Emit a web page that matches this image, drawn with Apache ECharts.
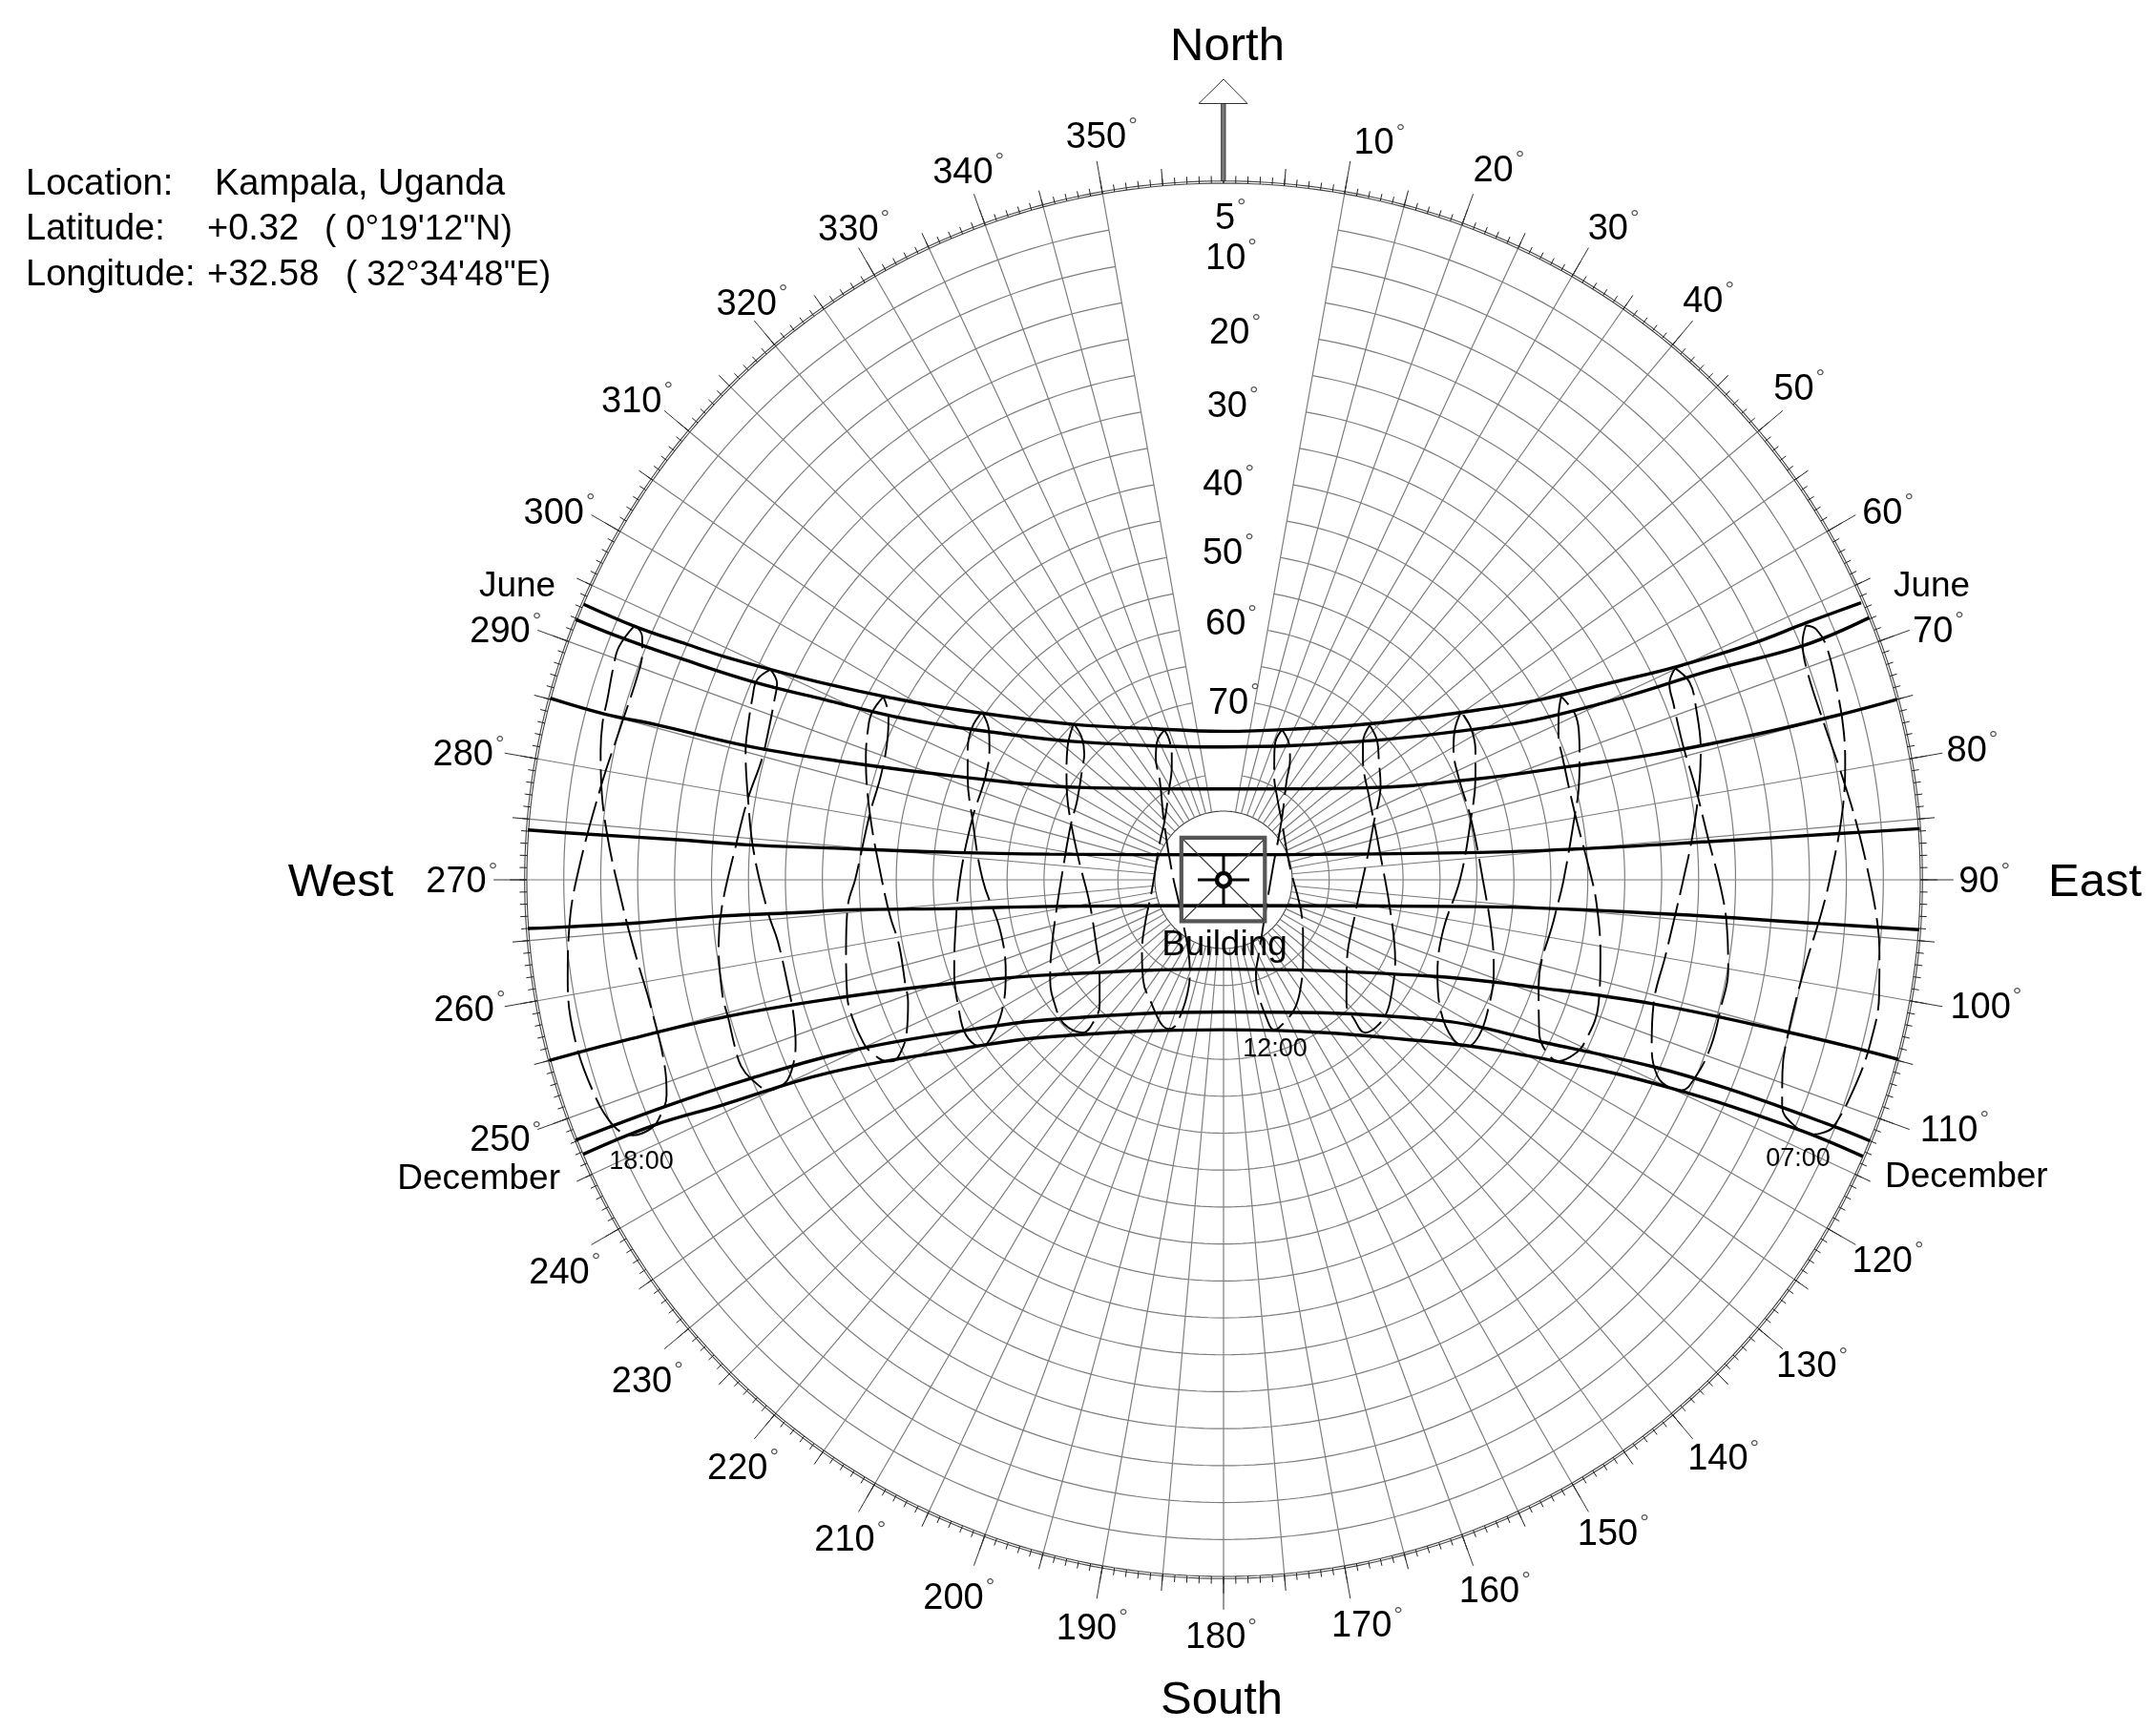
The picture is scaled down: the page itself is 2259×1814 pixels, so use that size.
<!DOCTYPE html>
<html>
<head>
<meta charset="utf-8">
<style>html,body{margin:0;padding:0;background:#fff}#main{width:2259px;height:1814px}</style>
</head>
<body>
<div id="main"></div>
<script src="https://cdn.jsdelivr.net/npm/echarts@6/dist/echarts.min.js"></script>
<script>
// all path values are [altitude, azimuth]
var h07 = [[8.3,66.4],[9.6,67.7],[10.4,70.3],[10.3,75.6],[9.4,80.5],[8.3,84.9],[6.9,89.8],[5.6,93.8],[5.0,96.2],[4.2,100.0],[4.0,103.9],[4.3,107.6],[5.2,112.0],[6.1,112.8],[7.5,113.4],[10.6,113.2],[12.7,112.1],[14.3,109.0],[15.1,105.2],[14.8,98.9],[13.2,93.0],[11.9,88.9],[10.1,83.9],[8.7,79.4],[8.0,76.6],[7.5,73.7],[6.8,69.1],[7.2,67.1]];
var h08 = [[26.8,64.9],[28.4,66.3],[28.9,68.6],[29.5,73.6],[29.2,79.1],[28.4,85.5],[27.0,90.9],[25.9,95.2],[24.9,100.2],[24.8,104.5],[24.6,108.9],[25.1,112.8],[26.1,114.7],[27.7,115.0],[29.9,114.3],[32.1,111.3],[33.7,106.2],[33.6,99.6],[32.8,93.4],[32.1,90.1],[30.6,84.8],[28.8,79.2],[27.4,74.9],[26.2,69.8],[25.8,67.0]];
var h09 = [[42.3,61.5],[43.8,63.9],[44.9,66.6],[45.5,70.0],[45.9,79.4],[44.8,88.2],[43.7,93.7],[42.3,101.2],[40.8,108.5],[40.7,114.3],[41.3,116.5],[42.7,118.4],[44.7,118.1],[46.8,115.9],[49.3,108.6],[49.2,96.3],[48.3,90.2],[45.9,79.4],[44.7,75.7],[43.3,70.9],[42.2,67.4],[41.7,64.7]];
var h10 = [[54.9,54.7],[57.1,57.2],[58.5,60.4],[59.6,66.5],[59.8,76.1],[59.2,90.0],[57.2,101.7],[55.6,109.1],[54.5,115.6],[53.8,121.3],[54.4,124.5],[56.6,124.7],[59.9,121.2],[62.7,113.6],[63.8,103.0],[62.3,90.0],[59.8,76.1],[57.5,67.9],[55.9,62.6],[55.0,58.3]];
var h11 = [[65.5,43.4],[67.8,45.4],[69.3,49.0],[71.7,60.9],[72.5,69.5],[72.8,81.4],[71.4,100.1],[68.6,115.3],[66.9,123.8],[65.8,129.3],[65.6,134.1],[66.1,137.2],[68.6,136.8],[70.6,135.4],[74.1,124.3],[75.9,104.2],[74.8,82.8],[72.4,68.6],[69.5,59.0],[67.8,52.5],[66.3,48.0]];
var h12 = [[72.5,21.3],[74.4,20.6],[76.5,22.7],[78.6,25.9],[81.1,33.5],[83.3,46.1],[85.1,72.1],[81.4,123.5],[79.3,134.1],[76.8,143.0],[74.4,151.0],[72.9,159.5],[72.9,161.3],[73.7,162.5],[79.3,162.6],[80.9,160.9],[82.8,155.9],[87.6,80.0],[83.1,44.5],[78.3,32.3],[75.8,29.1],[74.1,26.2]];
var h13 = [[72.5,338.5],[73.6,334.2],[75.5,330.8],[78.2,327.5],[83.2,313.6],[87.2,279.5],[86.8,229.0],[81.2,200.4],[79.2,198.1],[73.8,198.0],[72.8,200.1],[75.7,213.8],[76.9,218.7],[79.6,228.7],[82.2,241.2],[84.5,261.7],[84.3,300.2],[83.2,313.6],[80.0,329.0],[77.4,335.5],[75.9,337.6],[73.9,338.8]];
var h14 = [[65.0,316.2],[66.6,310.3],[68.6,304.2],[70.2,298.5],[72.3,290.3],[74.6,277.2],[75.9,259.9],[74.6,240.1],[74.0,235.9],[70.5,224.8],[68.1,222.4],[66.2,222.6],[65.2,227.9],[65.9,233.5],[67.2,240.0],[68.7,245.9],[70.7,255.7],[72.6,277.5],[72.3,290.3],[71.8,298.1],[69.8,308.9],[68.9,312.1],[67.0,315.2]];
var h15 = [[54.5,304.8],[54.5,301.3],[55.4,297.1],[57.0,291.8],[59.3,283.7],[61.7,270.0],[63.3,257.2],[62.2,246.7],[59.4,239.3],[56.2,235.8],[54.5,235.4],[53.6,238.9],[54.5,244.4],[55.7,250.8],[57.2,258.3],[58.6,270.0],[59.3,283.7],[59.2,293.2],[58.0,299.2],[56.7,302.4]];
var h16 = [[42.0,298.3],[41.6,295.4],[42.0,293.1],[43.1,289.0],[45.6,280.6],[48.0,270.3],[48.9,263.8],[49.5,258.7],[49.0,252.1],[48.5,248.8],[46.6,244.1],[45.1,242.2],[43.4,241.2],[42.6,241.6],[41.2,243.9],[40.8,245.6],[40.7,249.5],[41.0,252.9],[42.3,259.3],[43.3,265.9],[44.5,270.3],[45.6,280.6],[45.8,287.3],[44.8,293.4],[43.8,296.1]];
var h17 = [[26.7,294.9],[25.6,293.2],[25.9,291.3],[26.7,287.7],[27.3,285.1],[29.0,279.7],[30.6,273.4],[32.5,265.8],[33.4,262.1],[33.6,255.7],[33.3,252.6],[32.3,249.1],[31.1,247.0],[29.3,245.3],[27.7,245.0],[26.6,245.1],[24.9,247.2],[24.3,248.9],[24.4,251.1],[24.7,254.4],[24.7,257.0],[25.4,262.7],[26.3,266.9],[28.2,274.4],[29.0,279.7],[29.7,284.4],[29.5,288.0],[28.8,291.9],[28.3,293.7]];
var h18 = [[7.5,293.4],[6.6,291.1],[6.8,289.4],[7.4,286.3],[7.6,284.2],[8.2,281.7],[8.8,279.7],[10.5,274.6],[12.9,267.5],[14.1,262.6],[14.9,257.5],[14.5,251.3],[13.5,248.9],[11.2,247.0],[9.7,246.5],[7.2,246.6],[5.3,248.0],[4.3,251.3],[3.9,256.4],[4.5,261.3],[5.5,265.8],[6.8,270.3],[9.1,278.6],[10.1,284.2],[10.3,289.3],[9.8,291.4],[9.0,292.7]];
var hourLoops = [h07,h08,h09,h10,h11,h12,h13,h14,h15,h16,h17,h18];

var date1 = [[0,293.3],[7.7,293.3],[15.0,293.7],[20.4,294.1],[26.6,294.9],[34.5,296.3],[42.1,298.4],[51.2,302.4],[65.1,316.1],[71.2,332.6],[74.2,0],[71.5,26.3],[64.9,43.9],[52.7,56.4],[45.1,60.3],[35.2,63.1],[26.5,64.8],[16.3,65.9],[8.1,66.2],[0.2,66.5]];
var date2 = [[-0.2,291.9],[6.3,291.9],[15.4,292.2],[24.9,292.8],[35.0,294.3],[46.2,296.9],[57.2,302.6],[67.2,313.6],[76.3,0],[67.5,45.5],[54.1,59.4],[46.3,63.0],[34.5,65.5],[22.9,66.7],[9.6,68.0],[0,67.9]];
var date3 = [[-0.1,285.1],[7.6,285.0],[14.8,285.3],[27.4,285.7],[39.5,287.1],[55.3,291.1],[71.0,302.5],[82.0,0],[71.5,56.9],[57.1,68.4],[44.3,72.0],[33.1,73.8],[20.0,74.7],[7.6,75.0],[-0.1,75.0]];
var date4 = [[-0.1,274.1],[7.7,274.1],[19.8,274.2],[29.7,274.2],[40.5,274.6],[57.7,275.8],[70.5,278.4],[90.9,0],[59.5,83.9],[46.6,85.0],[28.5,85.5],[10.8,85.7],[-0.2,85.8]];
var date5 = [[-0.1,266.0],[5.6,265.9],[14.6,265.8],[25.0,265.9],[36.1,265.6],[43.5,265.4],[57.7,263.9],[70.5,261.3],[90.8,180],[59.5,96.0],[33.7,94.4],[13.3,94.2],[-0.1,94.1]];
var date6 = [[-0.2,255.0],[9.8,255.0],[24.8,254.6],[40.8,252.8],[55.3,249.0],[67.5,241.3],[82.2,180],[63.3,114.9],[49.2,108.9],[33.7,106.1],[15.1,105.1],[4.1,104.9],[-0.2,104.9]];
var date7 = [[-0.2,248.1],[12.7,247.9],[24.9,247.2],[38.6,245.4],[52.4,240.5],[64.1,231.2],[76.4,180],[60.4,123.9],[45.3,116.8],[30.8,113.5],[20.3,112.5],[5.2,112.0],[-0.1,112.0]];
var date8 = [[0,246.8],[10.1,246.7],[19.9,245.8],[34.6,244.0],[51.2,237.7],[62.6,227.9],[74.0,180],[58.6,127.9],[42.7,118.5],[27.7,115.0],[9.8,113.5],[0,113.4]];
var dateLines = [date1,date2,date3,date4,date5,date6,date7,date8];

var azimuthLabels = ['10','20','30','40','50','60','70','80','90','100','110','120','130','140','150','160','170','180','190','200','210','220','230','240','250','260','270','280','290','300','310','320','330','340','350'];
var azimuthLabelPos = [[-8.0,12.2],[-9.2,21.4],[-8.9,31.1],[-8.4,40.1],[-8.7,49.6],[-9.0,61.1],[-8.7,70.8],[-9.1,80.1],[-9.2,90.0],[-10.8,99.3],[-10.7,108.7],[-9.7,119.6],[-9.3,129.3],[-9.4,138.9],[-8.8,148.9],[-8.7,158.8],[-8.4,168.8],[-8.0,179.9],[-8.2,189.7],[-8.9,200.0],[-7.9,209.3],[-8.0,219.1],[-8.5,228.9],[-8.9,239.2],[-8.5,250.1],[-8.7,260.3],[-8.3,270.0],[-8.8,279.6],[-8.1,289.3],[-8.1,299.2],[-7.9,309.5],[-6.3,321.0],[-6.9,330.7],[-7.6,340.5],[-7.8,351.0]];
var altitudeLabels = ['5','10','20','30','40','50','60','70'];
var altitudeLabelPos = [[4.5,0.6],[9.9,0.7],[20.0,1.2],[29.9,1.1],[40.5,0.7],[49.8,0.8],[59.4,1.7],[70.0,3.3]];

// altitude rings, 75 is not drawn on the original
var gapRings = [5,10,15,20,25,30,35,40,45,50,55,60,65,70,80];
var fullRings = [85, 0, -0.3];
var FONT = '"Liberation Sans", Arial, sans-serif';
var BREAK = ['-', '-'];

function ringPoints(list, from, to) {
    var pts = [];
    list.forEach(function (alt) {
        for (var a = from; a <= to; a++) pts.push([alt, a]);
        pts.push(BREAK);
    });
    return pts;
}
function radialPoints(azList, altFrom, altTo) {
    var pts = [];
    azList.forEach(function (a) {
        pts.push([altFrom, a], [altTo, a], BREAK);
    });
    return pts;
}
var spokeAz = [], az5 = [], az10 = [], az1 = [];
for (var a = 0; a < 360; a++) {
    az1.push(a);
    if (a % 5 === 0) az5.push(a);
    if (a % 10 === 0 && a !== 0) az10.push(a);
    if (a % 5 === 0 && a >= 10 && a <= 350) spokeAz.push(a);
}

function gridSeries(data, color, width) {
    return {
        type: 'line', coordinateSystem: 'polar', data: data, showSymbol: false, symbol: 'none',
        silent: true, animation: false, clip: false, z: 1,
        lineStyle: {color: color, width: width}
    };
}
function labelSeries(pos, texts, offset) {
    return {
        type: 'scatter', coordinateSystem: 'polar', data: pos, symbolSize: 1, silent: true, animation: false, clip: false,
        itemStyle: {color: 'transparent', opacity: 1}, z: 5,
        label: {
            show: true, position: 'inside', offset: offset, color: '#000', fontFamily: FONT,
            formatter: function (p) { return '{n|' + texts[p.dataIndex] + '}{d|°}'; },
            rich: {
                n: {fontSize: 38, lineHeight: 48, fontFamily: FONT, color: '#000'},
                d: {fontSize: 24, lineHeight: 24, verticalAlign: 'top', fontFamily: FONT, color: '#555', padding: [0, 0, 0, 2]}
            }
        }
    };
}

var series = [
    gridSeries(ringPoints(gapRings, 10, 350), '#7d7d7d', 1.2),
    gridSeries(ringPoints(fullRings, 0, 360), '#444', 1.1),
    gridSeries(radialPoints(spokeAz, 85, 0), '#7d7d7d', 1.2),
    gridSeries(radialPoints(az1, 0, -1), '#222', 1),
    gridSeries(radialPoints(az5, 0, -2.3), '#222', 1),
    gridSeries(radialPoints(az10, 0, -4.5), '#333', 1)
];
dateLines.forEach(function (d) {
    series.push({
        type: 'line', coordinateSystem: 'polar', data: d, symbol: 'none', smooth: 0.4, silent: true,
        animation: false, clip: false, z: 3, lineStyle: {color: '#000', width: 3.4}
    });
});
hourLoops.forEach(function (h) {
    series.push({
        type: 'line', coordinateSystem: 'polar', data: h.concat([h[0]]), symbol: 'none', smooth: 0.4, silent: true,
        animation: false, clip: false, z: 4, lineStyle: {color: '#000', width: 1.9, type: [44, 9]}
    });
});
series.push(labelSeries(azimuthLabelPos, azimuthLabels, [-4, 3]));
series.push(labelSeries(altitudeLabelPos, altitudeLabels, [0, 3]));

function text(str, x, y, size, align) {
    return {type: 'text', x: x, y: y, z: 20, silent: true, style: {
        text: str, fontSize: size, fontFamily: FONT, fill: '#000',
        textAlign: align || 'center', textVerticalAlign: 'middle'
    }};
}
function seg(x1, y1, x2, y2, w, c) {
    return {type: 'line', z: 15, silent: true, shape: {x1: x1, y1: y1, x2: x2, y2: y2}, style: {stroke: c || '#000', lineWidth: w}};
}
var graphic = [
    text('North', 1286, 49, 49), text('South', 1280, 1782, 49), text('West', 357, 925, 49), text('East', 2195, 925, 49),
    text('June', 542, 615, 37), text('June', 2024, 615, 37),
    text('December', 587, 1236, 37, 'right'), text('December', 1975, 1234, 37, 'left'),
    text('Building', 1283, 991, 37),
    text('12:00', 1336, 1100, 27), text('18:00', 672, 1218, 27), text('07:00', 1884, 1215, 27),
    text('Location:', 27, 194, 38, 'left'), text('Kampala, Uganda', 225, 194, 38, 'left'),
    text('Latitude:', 27, 241, 38, 'left'), text('+0.32', 217, 241, 38, 'left'), text('( 0°19\'12"N)', 340, 241, 36.5, 'left'),
    text('Longitude:', 27, 289, 38, 'left'), text('+32.58', 217, 289, 38, 'left'), text('( 32°34\'48"E)', 362, 289, 36.5, 'left'),
    // north arrow
    {type: 'polygon', z: 15, silent: true, shape: {points: [[1282, 83], [1307, 108.5], [1256, 108.5]]}, style: {fill: '#fff', stroke: '#333', lineWidth: 1}},
    {type: 'rect', z: 15, silent: true, shape: {x: 1279.6, y: 108.5, width: 4.4, height: 81}, style: {fill: '#777', stroke: '#222', lineWidth: 0.8}},
    // building plan and centre mark
    {type: 'rect', z: 15, silent: true, shape: {x: 1237.8, y: 877.8, width: 87.5, height: 87.5}, style: {fill: 'none', stroke: '#555', lineWidth: 4.2}},
    seg(1240, 880, 1324, 964, 1.1, '#333'), seg(1324, 880, 1240, 964, 1.1, '#333'),
    seg(1255, 922, 1309, 922, 3), seg(1282, 895, 1282, 949, 3),
    {type: 'circle', z: 16, silent: true, shape: {cx: 1282, cy: 922, r: 7}, style: {fill: '#fff', stroke: '#000', lineWidth: 4.5}},
    seg(1276, 922, 1288, 922, 0.9, '#444'), seg(1282, 916, 1282, 928, 0.9, '#444')
];

var chart = echarts.init(document.getElementById('main'), null, {renderer: 'canvas'});
chart.setOption({
    backgroundColor: '#fff',
    animation: false,
    polar: {center: [1282, 922], radius: [2.3, 822.9]},
    angleAxis: {type: 'value', min: 0, max: 360, startAngle: 90, clockwise: true, show: false},
    radiusAxis: {type: 'value', min: -12, max: 94, inverse: true, show: false},
    graphic: graphic,
    series: series
});
</script>
</body>
</html>
